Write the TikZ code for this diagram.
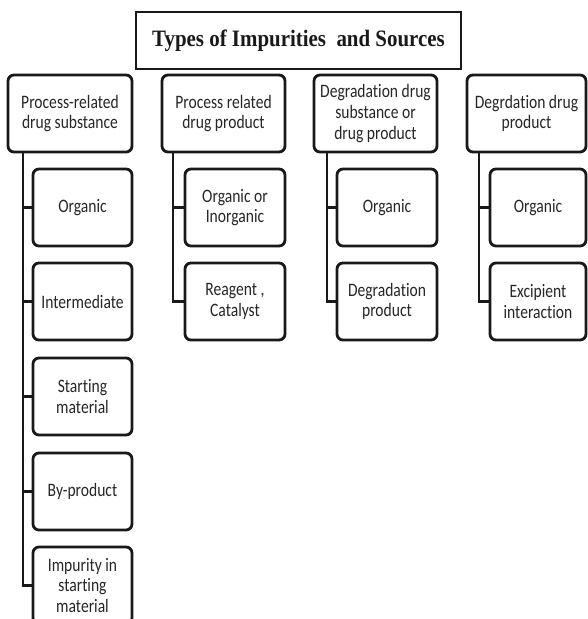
\documentclass[tikz,border=0pt]{standalone}
\usepackage{fontspec}
\newfontfamily\boxfont[FakeStretch=0.82,Ligatures=NoCommon]{Carlito}
\newfontfamily\titlefont[FakeStretch=0.89]{Liberation Serif}
\begin{document}
\begin{tikzpicture}[x=1pt,y=1pt,
  itembox/.style={draw=black!90, line width=2.8pt, rounded corners=6pt, inner sep=0pt, outer sep=0pt,
    anchor=north west, align=center, text=black!85,
    font=\boxfont\fontsize{19}{20.7}\selectfont},
  headbox/.style={itembox, minimum height=77pt},
  subbox/.style={itembox, minimum height=77pt},
  link/.style={draw=black!90, line width=2.8pt},
  titlebox/.style={draw=black!90, line width=2.8pt, inner sep=0pt, outer sep=0pt, anchor=north west,
    minimum width=325pt, minimum height=57pt, text=black!90,
    font=\titlefont\bfseries\fontsize{23.5}{27}\selectfont}
  ]
\useasboundingbox (0,0) rectangle (587,-619);

\node[titlebox] (title) at (136,-12) {Types of Impurities\ \ and Sources};

% top-level boxes
\node[headbox, minimum width=124pt] (p1) at (8,-75) {Process-related\\drug substance};
\node[headbox, minimum width=123pt] (p2) at (162,-75) {Process related\\drug product};
\node[headbox, minimum width=123pt] (p3) at (314,-75) {Degradation drug\\substance or\\drug product};
\node[headbox, minimum width=119pt] (p4) at (467,-75) {Degrdation drug\\product};

% column 1
\node[subbox, minimum width=99pt] (c11) at (33,-169) {Organic};
\node[subbox, minimum width=99pt] (c12) at (33,-263) {Intermediate};
\node[subbox, minimum width=99pt] (c13) at (33,-358) {Starting\\material};
\node[subbox, minimum width=99pt] (c14) at (33,-453) {By-product};
\node[subbox, minimum width=99pt] (c15) at (33,-547) {Impurity in\\starting\\material};

% column 2
\node[subbox, minimum width=100pt] (c21) at (185,-169) {Organic or\\Inorganic};
\node[subbox, minimum width=100pt] (c22) at (185,-263) {Reagent ,\\Catalyst};

% column 3
\node[subbox, minimum width=100pt] (c31) at (337,-169) {Organic};
\node[subbox, minimum width=100pt] (c32) at (337,-263) {Degradation\\product};

% column 4
\node[subbox, minimum width=96pt] (c41) at (490,-169) {Organic};
\node[subbox, minimum width=96pt] (c42) at (490,-263) {Excipient\\interaction};

% trunk x positions
\coordinate (v1) at (23,0);
\coordinate (v2) at (173,0);
\coordinate (v3) at (327,0);
\coordinate (v4) at (479,0);

\foreach \c in {c11,c12,c13,c14,c15}
  \draw[link] (p1.south -| v1) |- (\c.west);
\foreach \c in {c21,c22}
  \draw[link] (p2.south -| v2) |- (\c.west);
\foreach \c in {c31,c32}
  \draw[link] (p3.south -| v3) |- (\c.west);
\foreach \c in {c41,c42}
  \draw[link] (p4.south -| v4) |- (\c.west);
\end{tikzpicture}
\end{document}
